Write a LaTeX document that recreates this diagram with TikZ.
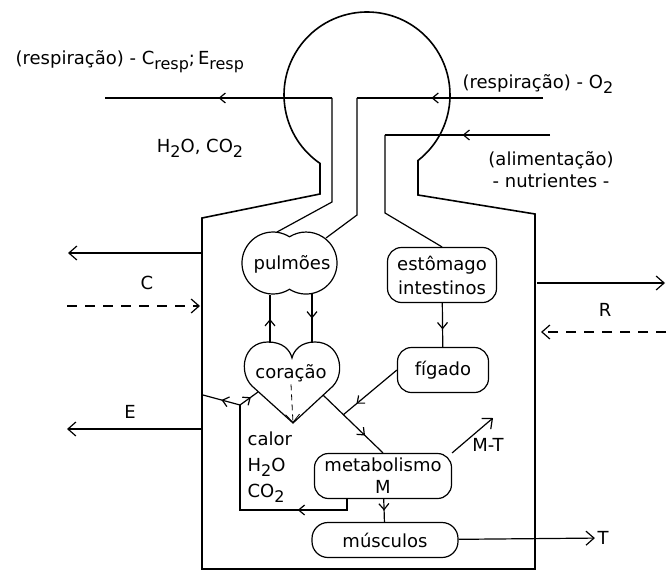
\documentclass[tikz,border=0pt]{standalone}
\usepackage{fontspec}
\setmainfont{DejaVu Sans}
\usetikzlibrary{arrows.meta, decorations.markings}
\newcommand{\subtxt}[1]{\raisebox{-2.5pt}{\fontsize{8}{8}\selectfont #1}}

\begin{document}
\begin{tikzpicture}[
  x=0.5pt, y=-0.5pt,
  font=\fontsize{9}{12}\selectfont,
  line width=0.6pt,
  wall/.style={line width=0.8pt},
  organ/.style={draw, rounded corners=7pt, align=center, inner sep=1pt},
  lbl/.style={inner sep=1pt},
  endflow/.style={-{Straight Barb[length=4pt,width=7pt]}},
  midflow/.style={postaction={decorate}, decoration={markings,
                  mark=at position #1 with {\arrow{Straight Barb[length=3pt,width=5pt]}}}},
  midflow/.default=0.5,
  inflow/.style={dash pattern=on 5pt off 4pt},
]
  \useasboundingbox (0,0) rectangle (667,572);

  \draw[wall] (202,569) -- (202,218) -- (320,194) -- (320,163.4)
    arc[start angle=124.5, end angle=412.1, radius=83]
    -- (418,195) -- (535,214) -- (535,569) -- cycle;

  \draw (289.5,236.8) arc[start angle=-57.8, end angle=-302.2, radius=31]
    arc[start angle=122.2, end angle=-122.2, radius=31] -- cycle;
  \draw (293,423) -- (252,386) .. controls (238,372) and (243,342) .. (268,342)
    .. controls (283,342) and (290,350) .. (292,358)
    .. controls (294,350) and (301,342) .. (315,342)
    .. controls (340,342) and (346,372) .. (333,386) -- cycle;

  \node[lbl] (pulm) at (292,264) {pulmões};
  \node[lbl] (cor) at (291,373) {coração};
  \node[organ, minimum width=54.5pt, minimum height=27.5pt] (estom) at (442,275) {estômago\\intestinos};
  \node[organ, minimum width=45.5pt, minimum height=22.5pt] (figado) at (443,370) {fígado};
  \node[organ, minimum width=68.5pt, minimum height=22.5pt, font=\fontsize{9}{11}\selectfont] (metab) at (383,476) {metabolismo\\M};
  \node[organ, rounded corners=8pt, minimum width=73pt, minimum height=17.5pt] (musc) at (385,540) {músculos};

  \node[lbl, anchor=west] (respout) at (13,62) {(respiração) - C\subtxt{resp};\,E\subtxt{resp}};
  \node[lbl] (gases) at (200,148) {H\subtxt{2}O, CO\subtxt{2}};
  \node[lbl, anchor=west] (respin) at (460,84) {(respiração) - O\subtxt{2}};
  \node[lbl, align=center, font=\fontsize{9}{11}\selectfont] (alim) at (551,170) {(alimentação)\\- nutrientes -};
  \node[lbl] (lblC) at (147,283) {C};
  \node[lbl] (lblR) at (605,310) {R};
  \node[lbl] (lblE) at (130,412) {E};
  \node[lbl] (lblT) at (603,538) {T};
  \node[lbl] (lblMT) at (488,445) {M-T};
  \node[lbl, align=left, anchor=north west, font=\fontsize{9}{13}\selectfont] (calor) at (245,429) {calor\\H\subtxt{2}O\\CO\subtxt{2}};

  \coordinate (aoL) at (105,98);
  \coordinate (aoC) at (332,98);
  \coordinate (aoD) at (332,202);
  \coordinate (lungL) at (277,232);
  \coordinate (aiR) at (543,98);
  \coordinate (aiC) at (357,98);
  \coordinate (aiD) at (357,215);
  \coordinate (lungR) at (326,238);
  \coordinate (fdR) at (550,135);
  \coordinate (fdC) at (385,135);
  \coordinate (fdD) at (385,213);

  \draw (lungL) -- (aoD) -- (aoC);
  \draw[midflow] (aoC) -- (aoL);
  \draw[midflow=0.6] (aiR) -- (aiC);
  \draw (aiC) -- (aiD) -- (lungR);
  \draw[midflow=0.53] (fdR) -- (fdC);
  \draw (fdC) -- (fdD) -- (estom.north);

  \coordinate (pl1) at (270,295);
  \coordinate (hc1) at (270,343);
  \coordinate (pl2) at (312,294);
  \coordinate (hc2) at (312,343);
  \coordinate (tip) at (293,423);
  \coordinate (hl) at (258,392);
  \coordinate (hr) at (323,395);
  \coordinate (jn) at (343,415);
  \coordinate (kn) at (240,405);
  \coordinate (wl) at (203,395);
  \coordinate (lpB) at (347,510);
  \coordinate (lpA) at (240,510);
  \coordinate (mtEnd) at (493,418);

  \draw[midflow] (hc1) -- (pl1);
  \draw[midflow] (pl2) -- (hc2);
  \draw[densely dashed, line width=0.4pt, endflow] (cor.south) -- (tip);
  \draw[midflow=0.7] (hr) -- (metab.north);
  \draw[midflow=0.75] (figado.west) -- (jn);
  \draw[midflow=0.6] (estom) -- (figado);
  \draw[midflow=0.27] (metab.south -| lpB) -- (lpB) -- (lpA) -- (kn);
  \draw[midflow] (kn) -- (wl);
  \draw[midflow=0.6] (kn) -- (hl);
  \draw[midflow] (metab) -- (musc);
  \draw[endflow] (metab.north east) -- (mtEnd);
  \draw[endflow] (musc) -- (lblT);

  \coordinate (wallL1) at (202,253);
  \coordinate (outL1) at (68,253);
  \coordinate (inC) at (67,306);
  \coordinate (wallL2) at (200,306);
  \coordinate (wallR1) at (537,283);
  \coordinate (outR1) at (665,283);
  \coordinate (inR) at (666,332);
  \coordinate (wallR2) at (541,332);
  \coordinate (wallL3) at (202,429);
  \coordinate (outL3) at (67,429);

  \draw[endflow] (wallL1) -- (outL1);
  \draw[endflow, inflow] (inC) -- (wallL2);
  \draw[endflow] (wallR1) -- (outR1);
  \draw[endflow, inflow] (inR) -- (wallR2);
  \draw[endflow] (wallL3) -- (outL3);
\end{tikzpicture}
\end{document}
